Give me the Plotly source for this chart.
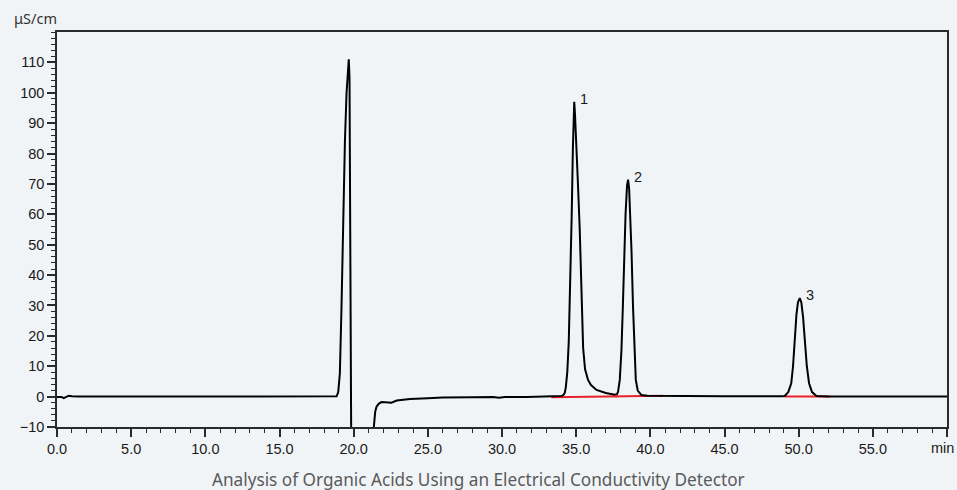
import plotly.graph_objects as go

# ---- chromatogram data (time in min, signal in µS/cm) ----
time = [0.0, 0.3, 0.45, 0.6, 0.8, 1.0, 1.5, 5.0, 10.0, 15.0, 18.5, 18.85, 18.96,
        19.07, 19.18, 19.29, 19.41, 19.52, 19.63, 19.67, 19.72, 19.78, 19.82, 19.86,
        21.30, 21.36, 21.45, 21.54, 21.70, 21.88, 22.20, 22.55, 22.90, 23.30, 23.80,
        25.0, 26.0, 28.0, 29.4, 29.8, 30.2, 31.65, 33.0, 34.0, 34.15, 34.23,
        34.30, 34.40, 34.50, 34.60, 34.70, 34.78, 34.84, 34.87, 34.92, 35.00, 35.12,
        35.24, 35.35, 35.47, 35.60, 35.80, 36.00, 36.37, 37.00, 37.60, 37.75,
        37.82, 37.94, 38.05, 38.15, 38.23, 38.33, 38.43, 38.50, 38.57, 38.65, 38.73,
        38.83, 38.93, 39.02, 39.15, 39.40, 39.80, 41.0, 45.0, 48.9,
        49.06, 49.30, 49.50, 49.62, 49.73, 49.85, 49.95, 50.07, 50.18, 50.30, 50.40,
        50.55, 50.70, 50.90, 51.20, 52.0, 55.0, 60.0]
signal = [-0.1, -0.1, -0.5, -0.2, 0.3, 0.1, 0.0, 0.0, 0.0, 0.0, 0.0, 0.1, 1.5,
          7.7, 29.4, 62.0, 84.0, 100.0, 110.6, 111.0, 105.0, 60.0, 0.0, -40.0,
          -20.0, -10.0, -5.0, -3.3, -2.3, -1.8, -1.9, -2.0, -1.3, -1.0, -0.75,
          -0.5, -0.3, -0.2, -0.1, -0.4, -0.1, -0.1, 0.0, 0.2, 0.6, 1.2,
          3.0, 8.0, 18.0, 35.0, 60.0, 82.0, 95.0, 97.0, 93.0, 85.0, 70.0,
          55.0, 33.0, 16.0, 9.0, 5.5, 3.8, 2.2, 1.2, 0.6, 0.8,
          1.5, 5.5, 15.0, 30.0, 45.0, 60.0, 69.5, 71.4, 68.5, 60.0, 48.0,
          30.0, 14.0, 5.5, 2.0, 0.5, 0.3, 0.2, 0.1, 0.1,
          0.2, 1.5, 4.4, 10.0, 19.6, 27.0, 31.0, 32.4, 31.0, 26.0, 19.6,
          10.0, 4.4, 1.5, 0.2, 0.0, 0.0, 0.0]

# integration baselines (red)
base1_t = [33.33, 37.70, 40.86]
base1_v = [-0.2, 0.2, 0.3]
base2_t = [49.06, 52.10]
base2_v = [0.0, 0.0]

# peak labels
peak_names = ["1", "2", "3"]
peak_times = [34.87, 38.50, 50.07]
peak_heights = [97.0, 71.4, 32.4]

x_tickvals = [0, 5, 10, 15, 20, 25, 30, 35, 40, 45, 50, 55, 60]
x_ticktext = ["0.0", "5.0", "10.0", "15.0", "20.0", "25.0", "30.0", "35.0",
              "40.0", "45.0", "50.0", "55.0", ""]
x_unit = "min"
y_tickvals = [-10, 0, 10, 20, 30, 40, 50, 60, 70, 80, 90, 100, 110]
y_ticktext = ["\u221210", "0", "10", "20", "30", "40", "50", "60", "70", "80",
              "90", "100", "110"]

BG = "#f1f4f7"
AX = "#2a2a2a"
TICKFONT = dict(family="Liberation Sans, Arial, sans-serif", size=14.5, color="#1a1a1a")

fig = go.Figure()
fig.add_trace(go.Scatter(x=base1_t, y=base1_v, mode="lines",
                         line=dict(color="#e8202a", width=2), hoverinfo="skip"))
fig.add_trace(go.Scatter(x=base2_t, y=base2_v, mode="lines",
                         line=dict(color="#e8202a", width=2), hoverinfo="skip"))
fig.add_trace(go.Scatter(x=time, y=signal, mode="lines",
                         line=dict(color="#000000", width=2)))
fig.add_trace(go.Scatter(x=[base1_t[1]], y=[base1_v[1]], mode="markers",
                         marker=dict(color="#e8202a", size=3), hoverinfo="skip"))

for name, t, h in zip(peak_names, peak_times, peak_heights):
    fig.add_annotation(x=t, y=h, text=name, showarrow=False,
                       xanchor="left", yanchor="bottom", xshift=4, yshift=-7,
                       font=dict(family="Liberation Sans, Arial, sans-serif",
                                 size=14.5, color="#1a1a1a"))

# unit label at the end of the time axis
fig.add_annotation(x=x_tickvals[-1], y=0, xref="x", yref="paper", text=x_unit,
                   showarrow=False, xanchor="right", yanchor="top",
                   xshift=9, yshift=-11, font=TICKFONT)

fig.add_annotation(x=0, y=1, xref="paper", yref="paper", text="\u03bcS/cm",
                   showarrow=False, xanchor="right", yanchor="bottom",
                   xshift=2, yshift=2,
                   font=dict(family="Noto Sans, sans-serif", size=14.5, color="#333333"))
fig.add_annotation(x=(478.5 - 57) / 890, y=0, xref="paper", yref="paper",
                   text="Analysis of Organic Acids Using an Electrical Conductivity Detector",
                   showarrow=False, xanchor="center", yanchor="middle", yshift=-52,
                   font=dict(family="Noto Sans, sans-serif", size=17.2, color="#5a5a5a"))

fig.update_xaxes(range=[0, 60], tickmode="array", tickvals=x_tickvals,
                 ticktext=x_ticktext, ticks="outside", ticklen=8, tickcolor=AX,
                 tickwidth=1.5, showline=True, linecolor=AX, linewidth=1.5,
                 mirror=True, showgrid=False, zeroline=False, tickfont=TICKFONT,
                 automargin=False,
                 minor=dict(tickmode="linear", tick0=0, dtick=1, ticks="outside",
                            ticklen=4, tickcolor=AX, tickwidth=1.2, showgrid=False))
fig.update_yaxes(range=[-10, 120], tickmode="array", tickvals=y_tickvals,
                 ticktext=y_ticktext, ticks="outside", ticklen=8, tickcolor=AX,
                 tickwidth=1.5, showline=True, linecolor=AX, linewidth=1.5,
                 mirror=True, showgrid=False, zeroline=False, tickfont=TICKFONT,
                 automargin=False,
                 minor=dict(tickmode="linear", tick0=0, dtick=2, ticks="outside",
                            ticklen=4, tickcolor=AX, tickwidth=1.2, showgrid=False))

fig.update_layout(width=957, height=490, paper_bgcolor=BG, plot_bgcolor=BG,
                  margin=dict(l=57, r=10, t=32, b=63, autoexpand=False),
                  showlegend=False)

fig.write_html("out.html",
               config={"displayModeBar": False},
               post_script="document.body.style.margin='0px';"
                           "document.body.style.overflow='hidden';"
                           "document.body.style.background='" + BG + "';")
